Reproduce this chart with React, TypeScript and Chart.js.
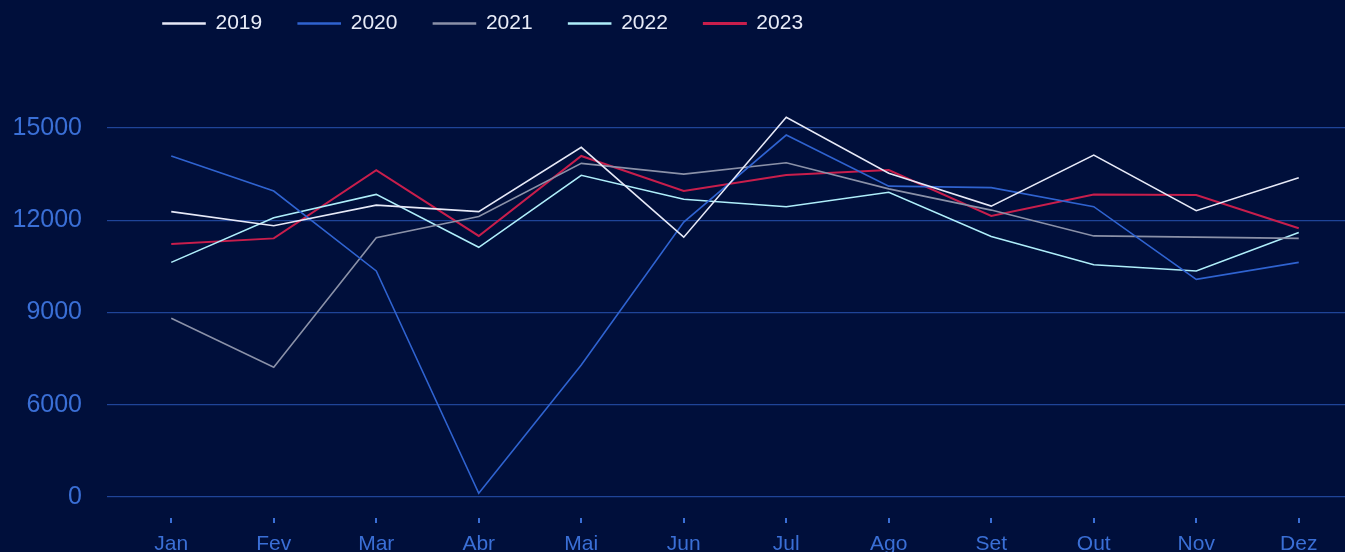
import React, { useEffect, useRef } from "react";
import { Chart, registerables, LinearScale } from "chart.js";

const MONTHS = ["Jan", "Fev", "Mar", "Abr", "Mai", "Jun", "Jul", "Ago", "Set", "Out", "Nov", "Dez"];
const YEARS = ["2019", "2020", "2021", "2022", "2023"];
const V2019 = [12280, 11820, 12490, 12280, 14370, 11450, 15350, 13530, 12460, 14120, 12310, 13380];
const V2020 = [14090, 12950, 10350, 240, 7290, 11940, 14770, 13110, 13060, 12440, 10080, 10630];
const V2021 = [8810, 7220, 11430, 12120, 13850, 13500, 13870, 13020, 12330, 11490, 11450, 11410];
const V2022 = [10630, 12080, 12840, 11120, 13460, 12680, 12440, 12910, 11470, 10550, 10350, 11600];
const V2023 = [11230, 11410, 13630, 11490, 14090, 12950, 13470, 13630, 12140, 12840, 12820, 11740];
const SERIES = [V2019, V2020, V2021, V2022, V2023];
const COLORS = ["#e6e9f7", "#2f63d0", "#8a91a8", "#aeeefa", "#c81e4c"];
const Y_TICKS = [0, 6000, 9000, 12000, 15000];

// The axis shows an evenly spaced "0" step below 6000 (axis break): 0..6000 is drawn in one step.
const BREAK_AT = 6000;
const toDisplay = (v: number) => (v >= BREAK_AT ? v : BREAK_AT / 2 + v / 2);
const fromDisplay = (d: number) => (d >= BREAK_AT ? d : (d - BREAK_AT / 2) * 2);

class BrokenLinearScale extends (LinearScale as any) {
  static id = "brokenLinear";
  static defaults = (LinearScale as any).defaults;
  getPixelForValue(value: number) {
    return super.getPixelForValue(value == null ? value : toDisplay(value));
  }
  getValueForPixel(pixel: number) {
    return fromDisplay(super.getValueForPixel(pixel));
  }
}

Chart.register(...registerables, BrokenLinearScale as any);

const FONT = "'Liberation Sans', Arial, Helvetica, sans-serif";
const BG = "#000f3b";
const TICK_BLUE = "#3a6fd6";

const legendShift = {
  id: "legendShift",
  afterLayout(chart: any) {
    if (chart.legend) {
      chart.legend.left = 127;
      chart.legend.top = -23;
    }
  },
};

export default function App() {
  const ref = useRef<HTMLCanvasElement | null>(null);
  useEffect(() => {
    if (!ref.current) return;
    const chart = new Chart(ref.current, {
      type: "line",
      data: {
        labels: MONTHS,
        datasets: YEARS.map((y, i) => ({
          label: y,
          data: SERIES[i],
          borderColor: COLORS[i],
          backgroundColor: COLORS[i],
          borderWidth: i === 4 ? 2 : 1.6,
          pointRadius: 0,
          tension: 0,
          fill: false,
        })),
      },
      options: {
        animation: false,
        responsive: false,
        layout: { padding: 0 },
        plugins: {
          tooltip: { enabled: false },
          legend: {
            position: "top",
            align: "start",
            maxHeight: 60,
            labels: {
              boxWidth: 42,
              boxHeight: 1,
              padding: 36,
              color: "#e8ecf8",
              font: { family: FONT, size: 21 },
            },
          },
        },
        scales: {
          x: {
            type: "category",
            offset: true,
            border: { display: false },
            grid: {
              drawOnChartArea: false,
              drawTicks: true,
              tickLength: 5,
              color: TICK_BLUE,
              lineWidth: 2,
            },
            ticks: {
              color: TICK_BLUE,
              font: { family: FONT, size: 21 },
              padding: 9,
              maxRotation: 0,
              autoSkip: false,
            },
            afterFit: (scale: any) => {
              scale.height = 34;
            },
          },
          y: {
            type: "brokenLinear" as any,
            min: 2317,
            max: 17211,
            border: { display: false },
            grid: {
              color: "#1f4498",
              lineWidth: 1.2,
              drawTicks: true,
              tickLength: 13,
            },
            ticks: {
              color: TICK_BLUE,
              font: { family: FONT, size: 25 },
              padding: 25,
              callback: (v: any) => String(v),
            },
            afterBuildTicks: (scale: any) => {
              scale.ticks = Y_TICKS.map((value) => ({ value }));
            },
            afterFit: (scale: any) => {
              scale.width = 120;
              scale.paddingTop = 0;
              scale.paddingBottom = 0;
            },
          },
        },
      },
      plugins: [legendShift],
    } as any);
    return () => chart.destroy();
  }, []);

  return (
    <div style={{ position: "fixed", left: 0, top: 0, right: 0, bottom: 0, overflow: "hidden", background: BG }}>
      <div style={{ width: 1350, height: 552 }}>
        <canvas ref={ref} width={1350} height={552} style={{ display: "block", width: 1350, height: 552 }} />
      </div>
    </div>
  );
}
